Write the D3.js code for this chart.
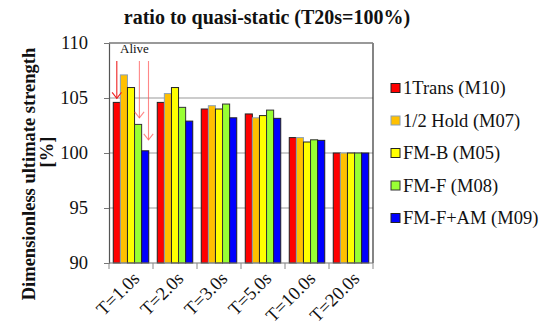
<!DOCTYPE html>
<html>
<head>
<meta charset="utf-8">
<script src="https://cdn.jsdelivr.net/npm/d3@7/dist/d3.min.js"></script>
<style>
  html, body { margin: 0; padding: 0; background: #fff; }
  svg { display: block; }
  svg text { font-family: "Liberation Serif", "Times New Roman", serif; }
</style>
</head>
<body>
<svg id="chart" width="542" height="327"></svg>
<script>
// Loading periods
const categories = ["T=1.0s", "T=2.0s", "T=3.0s", "T=5.0s", "T=10.0s", "T=20.0s"];

// Specimen series
const seriesNames = ["1Trans (M10)", "1/2 Hold (M07)", "FM-B (M05)", "FM-F (M08)", "FM-F+AM (M09)"];

// Dimensionless ultimate strength [%] per series, one value per period
const m10 = [104.6, 104.6, 104.0, 103.55, 101.4, 100.0];
const m07 = [107.1, 105.4, 104.3, 103.2, 101.4, 100.0];
const m05 = [105.95, 105.95, 104.0, 103.4, 101.0, 100.0];
const m08 = [102.6, 104.15, 104.45, 103.9, 101.2, 100.0];
const m09 = [100.2, 102.9, 103.2, 103.15, 101.15, 100.0];
const seriesValues = [m10, m07, m05, m08, m09];

// Y axis ticks
const yTicks = [90, 95, 100, 105, 110];

const FONT = "'Liberation Serif', 'Times New Roman', serif";
const fills = ["#ff0000", "#ffc000", "#ffff00", "#99ff33", "#0000ff"];
const strokes = ["#222", "#8aa0b8", "#222", "#333", "#222"];

const svg = d3.select("#chart");

const plot = { left: 109, right: 373, top: 43, bottom: 263 };

const x = d3.scaleBand().domain(categories).range([plot.left, plot.right]).padding(0);
const xs = d3.scaleBand().domain(d3.range(seriesNames.length))
  .range([0, x.bandwidth()]).paddingOuter(0.6).paddingInner(0);
const y = d3.scaleLinear().domain([90, 110]).range([plot.bottom, plot.top]);

// Horizontal gridlines
svg.append("g")
  .selectAll("line")
  .data(yTicks.slice(1))
  .join("line")
  .attr("x1", plot.left).attr("x2", plot.right)
  .attr("y1", d => y(d)).attr("y2", d => y(d))
  .attr("stroke", "#999").attr("stroke-width", 1.2);

// Right border of the plot area
svg.append("line")
  .attr("x1", plot.right).attr("x2", plot.right)
  .attr("y1", plot.top).attr("y2", plot.bottom)
  .attr("stroke", "#333").attr("stroke-width", 1.2);

// Bars
const groups = svg.append("g")
  .selectAll("g")
  .data(categories)
  .join("g")
  .attr("transform", d => `translate(${x(d)},0)`);

groups.selectAll("rect")
  .data((c, ci) => seriesValues.map((vals, si) => ({ si, v: vals[ci] })))
  .join("rect")
  .attr("x", d => xs(d.si))
  .attr("width", xs.bandwidth())
  .attr("y", d => y(d.v))
  .attr("height", d => y(90) - y(d.v))
  .attr("fill", d => fills[d.si])
  .attr("stroke", d => strokes[d.si])
  .attr("stroke-width", 1);

// Y axis
const yAxis = svg.append("g")
  .attr("transform", `translate(${plot.left},0)`)
  .call(d3.axisLeft(y).tickValues(yTicks).tickSize(5).tickPadding(16))
  .attr("font-family", FONT);
yAxis.select(".domain").attr("stroke", "#555").attr("stroke-width", 1.2);
yAxis.selectAll(".tick line").attr("stroke", "#777");
yAxis.selectAll("text")
  .style("font-family", FONT)
  .attr("font-size", 18.5)
  .attr("fill", "#111");

// X axis: ticks at category boundaries
const xAxis = svg.append("g").attr("transform", `translate(0,${plot.bottom})`);
xAxis.append("line")
  .attr("x1", plot.left).attr("x2", plot.right)
  .attr("stroke", "#777").attr("stroke-width", 1.2);
xAxis.selectAll("line.tk")
  .data(categories.concat([null]))
  .join("line")
  .attr("class", "tk")
  .attr("x1", (d, i) => plot.left + i * x.step())
  .attr("x2", (d, i) => plot.left + i * x.step())
  .attr("y1", 0).attr("y2", 6)
  .attr("stroke", "#888");
xAxis.selectAll("text")
  .data(categories)
  .join("text")
  .attr("transform", d => `translate(${x(d) + x.bandwidth() / 2 + 5},${12}) rotate(-45)`)
  .attr("text-anchor", "end")
  .attr("dy", "0.35em")
  .style("font-family", FONT)
  .attr("font-size", 18.5)
  .attr("fill", "#111")
  .text(d => d);

// Top border of the plot area
svg.append("line")
  .attr("x1", plot.left).attr("x2", plot.right)
  .attr("y1", plot.top).attr("y2", plot.top)
  .attr("stroke", "#888").attr("stroke-width", 1.4);

// Title
svg.append("text")
  .attr("x", 267).attr("y", 24)
  .attr("text-anchor", "middle")
  .style("font-family", FONT)
  .attr("font-weight", "bold")
  .attr("font-size", 20)
  .attr("fill", "#111")
  .text("ratio to quasi-static (T20s=100%)");

// Y axis title
svg.append("text")
  .attr("transform", "translate(35,174) rotate(-90)")
  .attr("text-anchor", "middle")
  .style("font-family", FONT)
  .attr("font-weight", "bold")
  .attr("font-size", 18.5)
  .attr("fill", "#111")
  .text("Dimensionless ultimate strength");
svg.append("text")
  .attr("transform", "translate(53,152) rotate(-90)")
  .attr("text-anchor", "middle")
  .style("font-family", FONT)
  .attr("font-weight", "bold")
  .attr("font-size", 18.5)
  .attr("fill", "#111")
  .text("[%]");

// "Alive" annotation with arrows pointing at the bars of T=1.0s
const alive = [
  { si: 0, dx: 0, gap: 4, color: "#ee2222", op: 1 },
  { si: 3, dx: 1.3, gap: 6.5, color: "#ff5555", op: 0.7 },
  { si: 4, dx: 3.3, gap: 11, color: "#ff5555", op: 0.7 }
];
const ann = svg.append("g");
ann.append("text")
  .attr("x", 120).attr("y", 53)
  .style("font-family", FONT)
  .attr("font-size", 13)
  .attr("fill", "#111")
  .text("Alive");
alive.forEach(a => {
  const ax = x(categories[0]) + xs(a.si) + xs.bandwidth() / 2 + a.dx;
  const tip = y(seriesValues[a.si][0]) - a.gap;
  const g = ann.append("g").attr("stroke", a.color).attr("stroke-opacity", a.op)
    .attr("fill", "none").attr("stroke-width", 1.1);
  g.append("line").attr("x1", ax).attr("x2", ax).attr("y1", 61).attr("y2", tip);
  g.append("path").attr("d", `M${ax - 4.7},${tip - 6}L${ax},${tip}L${ax + 4.7},${tip - 6}`);
});

// Legend
const legend = svg.append("g")
  .selectAll("g")
  .data(seriesNames)
  .join("g")
  .attr("transform", (d, i) => `translate(391,${88 + i * 32.5})`);
legend.append("rect")
  .attr("x", 0).attr("y", -4.5)
  .attr("width", 9).attr("height", 9)
  .attr("fill", (d, i) => fills[i])
  .attr("stroke", (d, i) => strokes[i])
  .attr("stroke-width", 1);
legend.append("text")
  .attr("x", 12).attr("y", 0)
  .attr("dy", "0.35em")
  .style("font-family", FONT)
  .attr("font-size", 18.5)
  .attr("fill", "#111")
  .text(d => d);
</script>
</body>
</html>
